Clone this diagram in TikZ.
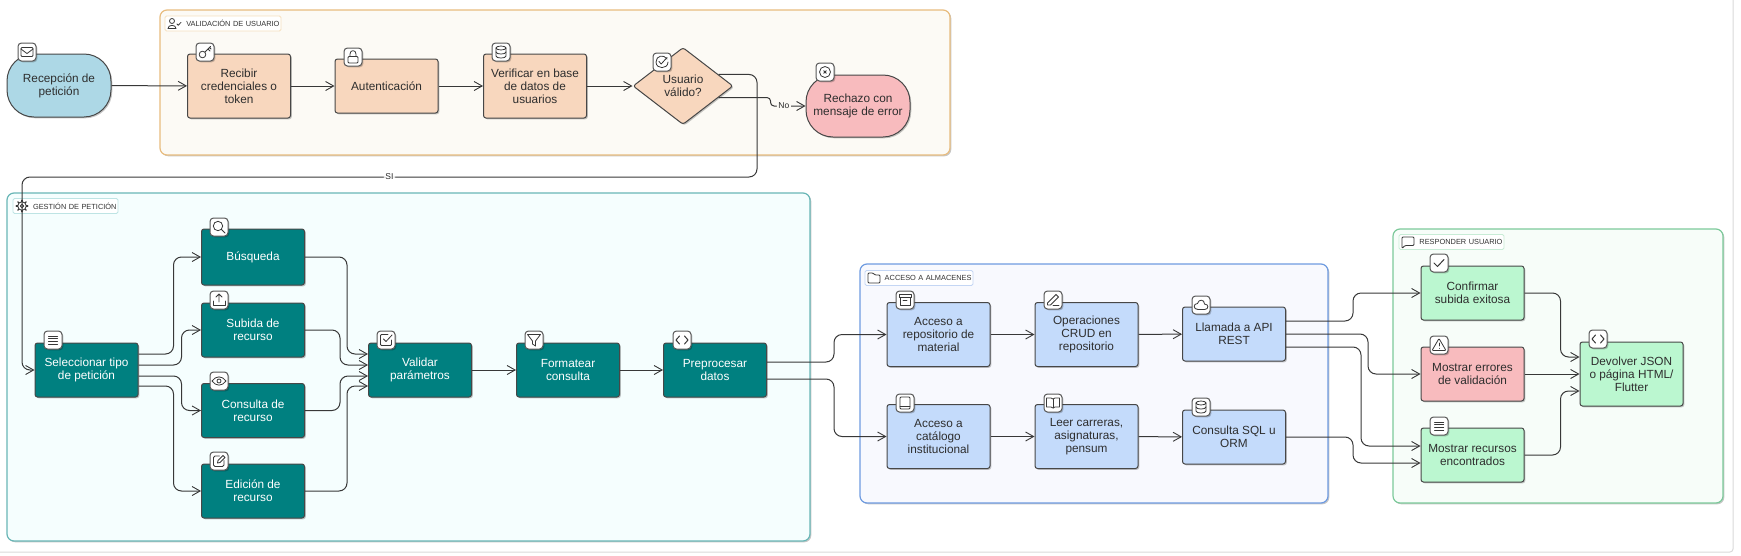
\documentclass[tikz,border=0pt]{standalone}
\usepackage{fontspec}
\setmainfont{Liberation Sans}
\usepackage{tikz}
\usetikzlibrary{arrows.meta}
\usetikzlibrary{shapes.geometric}
\usetikzlibrary{shadows}
\definecolor{azulini}{HTML}{ADD8E6}
\definecolor{durazno}{HTML}{F8D7BE}
\definecolor{rosa}{HTML}{F8BBBE}
\definecolor{verdeazul}{HTML}{008080}
\definecolor{azulcaja}{HTML}{C4DBFB}
\definecolor{verdecaja}{HTML}{BBF7D0}
\tikzset{
    sombra/.style={drop shadow={shadow xshift=1.3pt,shadow yshift=-1.3pt,opacity=.22,fill=black}},
    caja/.style={shape=rectangle, rounded corners=2.5pt, draw=black!72, line width=1pt, sombra,
        minimum width=103pt, minimum height=54pt, inner sep=1pt, align=center, text=black!82,
        font=\fontsize{11.8}{13}\selectfont},
    alta/.style={minimum height=64pt},
    oscura/.style={fill=verdeazul, text=white},
    grupo/.style={shape=rectangle, rounded corners=7pt, line width=1.2pt, sombra},
    etiqueta/.style={shape=rectangle, rounded corners=1.5pt, fill=white, line width=.8pt, inner sep=0pt,
        minimum height=15pt, align=left, text=black!80, font=\fontsize{7.4}{8}\selectfont},
    iconbox/.style={shape=rectangle, rounded corners=3.5pt, fill=white, draw=black!65, line width=1pt,
        minimum width=18pt, minimum height=18pt, inner sep=0pt, sombra},
    flujo/.style={draw=black!78, line width=1pt, rounded corners=8pt, -{Straight Barb[length=8pt,width=9pt,line width=.9pt]}},
    rotulo/.style={font=\fontsize{8.5}{9}\selectfont, text=black!85, inner sep=1.5pt},
    trazo/.style={draw=black!78, line width=.8pt, line cap=round, line join=round},
    pics/sobre/.style={code={\draw[trazo,rounded corners=1pt] (-6,-4.5) rectangle (6,4.5);
        \draw[trazo] (-6,-3) -- (0,1.5) -- (6,-3);}},
    pics/llave/.style={code={\draw[trazo] (-2.5,2.5) circle (3.3);
        \draw[trazo] (0,0) -- (5.5,-5.5) (3,-3) -- (5,-1) (4.5,-4.5) -- (6,-3);}},
    pics/candado/.style={code={\draw[trazo,rounded corners=1pt] (-5,-.5) rectangle (5,6);
        \draw[trazo] (-3,-.5) -- (-3,-3) .. controls (-3,-7.5) and (3,-7.5) .. (3,-3) -- (3,-.5);}},
    pics/base/.style={code={\draw[trazo] (0,-4) ellipse (5 and 2);
        \draw[trazo] (-5,-4) -- (-5,4) .. controls (-5,6.7) and (5,6.7) .. (5,4) -- (5,-4);
        \draw[trazo] (-5,0) .. controls (-5,2.7) and (5,2.7) .. (5,0);}},
    pics/verif/.style={code={\draw[trazo] (5,-3) .. controls (2,-8) and (-6,-6.5) .. (-6,0) .. controls (-6,7.5) and (6,7.5) .. (6,0);
        \draw[trazo] (-3,-.5) -- (-.8,2) -- (5,-4.5);}},
    pics/equis/.style={code={\draw[trazo] (0,0) circle (5.5);
        \draw[trazo] (-1.4,-1.4) -- (1.4,1.4) (-1.4,1.4) -- (1.4,-1.4);}},
    pics/lista/.style={code={\draw[trazo,line width=1pt] (-4.5,-4) -- (4.5,-4) (-4.5,-1.3) -- (4.5,-1.3) (-4.5,1.3) -- (4.5,1.3) (-4.5,4) -- (4.5,4);}},
    pics/lupa/.style={code={\draw[trazo] (-1,-1) circle (4.7);
        \draw[trazo] (2.5,2.5) -- (6,6);}},
    pics/subir/.style={code={\draw[trazo] (0,2) -- (0,-6) (-3,-3) -- (0,-6) -- (3,-3);
        \draw[trazo] (-6,1) -- (-6,5.5) -- (6,5.5) -- (6,1);}},
    pics/ojo/.style={code={\draw[trazo] (-7,0) .. controls (-3,-5.5) and (3,-5.5) .. (7,0) .. controls (3,5.5) and (-3,5.5) .. (-7,0) -- cycle;
        \draw[trazo] (0,0) circle (2);}},
    pics/editar/.style={code={\draw[trazo,rounded corners=1.5pt] (.5,-5) -- (-5.5,-5) -- (-5.5,5.5) -- (5,5.5) -- (5,-.5);
        \draw[trazo] (-1.5,2) -- (-1,-.5) -- (4,-5.5) -- (6,-3.5) -- (1,1.5) -- cycle;}},
    pics/cheque/.style={code={\draw[trazo,rounded corners=1pt] (2,-5.5) -- (-5.5,-5.5) -- (-5.5,5.5) -- (5.5,5.5) -- (5.5,0);
        \draw[trazo] (-2.5,-1) -- (0,1.5) -- (6,-5);}},
    pics/filtro/.style={code={\draw[trazo] (-6.5,-5.5) -- (6.5,-5.5) -- (1.5,1) -- (1.5,6) -- (-1.5,4) -- (-1.5,1) -- cycle;}},
    pics/codigo/.style={code={\draw[trazo,line width=1pt] (-2.5,-4) -- (-6,0) -- (-2.5,4) (2.5,-4) -- (6,0) -- (2.5,4);}},
    pics/archivo/.style={code={\draw[trazo] (-6,-5.5) rectangle (6,-2.5);
        \draw[trazo] (-5,-2.5) -- (-5,5.5) -- (5,5.5) -- (5,-2.5) (-2,.5) -- (2,.5);}},
    pics/lapiz/.style={code={\draw[trazo] (-5.5,3) -- (3,-5.5) -- (5.5,-3) -- (-2.5,5) -- (-5.5,5) -- cycle;
        \draw[trazo] (0,5.5) -- (6,5.5);}},
    pics/nube/.style={code={\draw[trazo] (-3,4.5) .. controls (-8,4.5) and (-8,-1.5) .. (-3.5,-1.5) .. controls (-2.5,-6) and (3.5,-6) .. (3.5,-1) .. controls (8,-1) and (8,4.5) .. (3.5,4.5) -- cycle;}},
    pics/libro/.style={code={\draw[trazo,rounded corners=1pt] (-5,-6) rectangle (5,6);
        \draw[trazo] (-5,3) -- (5,3);}},
    pics/abierto/.style={code={\draw[trazo] (0,-4) -- (0,5);
        \draw[trazo] (0,-4) -- (-2,-5) -- (-6.5,-5) -- (-6.5,4) -- (-2,4) -- (0,5) -- (2,4) -- (6.5,4) -- (6.5,-5) -- (2,-5) -- cycle;}},
    pics/visto/.style={code={\draw[trazo,line width=1pt] (-5,0) -- (-1.5,3.5) -- (5,-3.5);}},
    pics/alerta/.style={code={\draw[trazo,rounded corners=1pt] (0,-6.5) -- (7,5.5) -- (-7,5.5) -- cycle;
        \draw[trazo] (0,-2) -- (0,1) (0,3.3) -- (0,3.4);}},
    pics/usuario/.style={code={\draw[trazo] (-2,-2.5) circle (2.5);
        \draw[trazo] (-6,5) .. controls (-6,.8) and (2,.8) .. (2,5) -- cycle;
        \draw[trazo] (3,.5) -- (4.3,1.8) -- (7,-1.2);}},
    pics/engrane/.style={code={\draw[trazo] (0,0) circle (1.8) (0,0) circle (4.3);
        \foreach \ang in {0,45,...,315} {\draw[trazo,line width=1.3pt] (\ang:4.3) -- (\ang:5.8);}}},
    pics/carpeta/.style={code={\draw[trazo,rounded corners=1pt] (-6,5) -- (-6,-5) -- (-1,-5) -- (1,-3) -- (6,-3) -- (6,5) -- cycle;}},
    pics/dialogo/.style={code={\draw[trazo,rounded corners=1pt] (-6,-5) -- (6,-5) -- (6,3.5) -- (-3,3.5) -- (-6,6.5) -- cycle;}}
}

\begin{document}
\begin{tikzpicture}[x=1pt, y=-1pt]
            \useasboundingbox (0,0) rectangle (1741,555);

            % marco de la captura
            \draw[black!15, line width=1pt, rounded corners=3pt] (0,552) -- (1733,552) -- (1733,0);

            % grupos
            \node[grupo, draw={rgb,255:red,232;green,188;blue,126}, fill={rgb,255:red,252;green,250;blue,245}, minimum width=790pt, minimum height=145pt] (gValida) at (555,82.5) {};
            \node[grupo, draw={rgb,255:red,104;green,182;blue,182}, fill={rgb,255:red,245;green,254;blue,254}, minimum width=803pt, minimum height=348pt] (gGestion) at (408.5,367) {};
            \node[grupo, draw={rgb,255:red,110;green,155;blue,224}, fill={rgb,255:red,248;green,249;blue,254}, minimum width=468pt, minimum height=239pt] (gAcceso) at (1094,383.5) {};
            \node[grupo, draw={rgb,255:red,124;green,201;blue,154}, fill={rgb,255:red,247;green,253;blue,249}, minimum width=330pt, minimum height=274pt] (gResp) at (1558,366) {};

            \node[etiqueta, draw={rgb,255:red,246;green,224;blue,190}, minimum width=116pt, text width=113pt, align=right] (eValida) at (223,23.5) {VALIDACIÓN DE USUARIO};
            \node[etiqueta, draw={rgb,255:red,190;green,228;blue,228}, minimum width=105pt, text width=102pt, align=right] (eGestion) at (65.5,206) {GESTIÓN DE PETICIÓN};
            \node[etiqueta, draw={rgb,255:red,196;green,214;blue,244}, minimum width=108pt, text width=105pt, align=right] (eAcceso) at (919,278) {ACCESO A ALMACENES};
            \node[etiqueta, draw={rgb,255:red,200;green,236;blue,214}, minimum width=105pt, text width=102pt, align=right] (eResp) at (1451.5,242) {RESPONDER USUARIO};
            \pic at (174,23.5) {usuario};
            \pic at (22,206) {engrane};
            \pic at (874,278) {carpeta};
            \pic at (1408,242) {dialogo};

            % validacion
            \node[caja, alta, fill=azulini, rounded corners=27pt, minimum width=104pt, minimum height=63pt] (inicio) at (59,85.5) {Recepción de\\petición};
            \node[caja, alta, fill=durazno] (recibir) at (239,86) {Recibir\\credenciales o\\token};
            \node[caja, fill=durazno] (autentica) at (386.5,86) {Autenticación};
            \node[caja, alta, fill=durazno] (verifica) at (535,86) {Verificar en base\\de datos de\\usuarios};
            \node[shape=diamond, shape aspect=1.3, rounded corners=2.5pt, draw=black!72, line width=1pt, sombra, fill=durazno, minimum width=100pt, minimum height=77pt, inner sep=0pt, align=center, text=black!82, font=\fontsize{11.8}{13}\selectfont] (valido) at (683,86) {Usuario\\válido?};
            \node[caja, fill=rosa, rounded corners=27pt, minimum width=104pt, minimum height=62pt] (rechazo) at (858,106) {Rechazo con\\mensaje de error};

            % gestion
            \node[caja, oscura] (selec) at (86.5,370) {Seleccionar tipo\\de petición};
            \node[caja, oscura, minimum height=56pt] (busq) at (253,257) {Búsqueda};
            \node[caja, oscura] (subida) at (253,330) {Subida de\\recurso};
            \node[caja, oscura] (consulta) at (253,410.5) {Consulta de\\recurso};
            \node[caja, oscura] (edicion) at (253,491) {Edición de\\recurso};
            \node[caja, oscura] (params) at (420,370) {Validar\\parámetros};
            \node[caja, oscura] (formato) at (568,370) {Formatear\\consulta};
            \node[caja, oscura] (prepro) at (715,370) {Preprocesar\\datos};

            % almacenes
            \node[caja, alta, fill=azulcaja] (repo) at (938.5,334.5) {Acceso a\\repositorio de\\material};
            \node[caja, alta, fill=azulcaja] (crud) at (1086.5,334.5) {Operaciones\\CRUD en\\repositorio};
            \node[caja, fill=azulcaja] (api) at (1234,334) {Llamada a API\\REST};
            \node[caja, alta, fill=azulcaja] (catalogo) at (938.5,436.5) {Acceso a\\catálogo\\institucional};
            \node[caja, alta, fill=azulcaja] (leer) at (1086.5,436.5) {Leer carreras,\\asignaturas,\\pensum};
            \node[caja, fill=azulcaja] (sql) at (1234,437) {Consulta SQL u\\ORM};

            % respuesta
            \node[caja, fill=verdecaja] (confirma) at (1472.5,293) {Confirmar\\subida exitosa};
            \node[caja, fill=rosa] (errores) at (1472.5,374) {Mostrar errores\\de validación};
            \node[caja, fill=verdecaja] (recursos) at (1472.5,455) {Mostrar recursos\\encontrados};
            \node[caja, alta, fill=verdecaja] (devolver) at (1631.5,374) {Devolver JSON\\o página HTML/\\Flutter};

            % conectores
            \draw[flujo] (inicio) -- (recibir);
            \draw[flujo] (recibir) -- (autentica);
            \draw[flujo] (autentica) -- (verifica);
            \draw[flujo] (verifica) -- (valido);
            \coordinate (vuelta) at (757,177);
            \coordinate (bajada) at (22,177);
            \draw[flujo] (valido.18) -| (vuelta) -- (bajada) node[midway, rotulo, fill=white] {SI} |- (selec.west);
            \draw[flujo, rounded corners=3.5pt] (valido.-18) -- ++(52,0) |- (rechazo.west) node[pos=.69, rotulo, fill={rgb,255:red,252;green,250;blue,245}] {No};

            \draw[flujo] ([yshift=16pt]selec.east) -- ++(35,0) |- (busq.west);
            \draw[flujo] ([yshift=5pt]selec.east) -- ++(43,0) |- (subida.west);
            \draw[flujo] ([yshift=-6pt]selec.east) -- ++(43,0) |- (consulta.west);
            \draw[flujo] ([yshift=-16pt]selec.east) -- ++(35,0) |- (edicion.west);
            \draw[flujo] (busq.east) -- ++(42,0) |- ([yshift=16pt]params.west);
            \draw[flujo] (subida.east) -- ++(35,0) |- ([yshift=5pt]params.west);
            \draw[flujo] (consulta.east) -- ++(35,0) |- ([yshift=-6pt]params.west);
            \draw[flujo] (edicion.east) -- ++(42,0) |- ([yshift=-16pt]params.west);
            \draw[flujo] (params) -- (formato);
            \draw[flujo] (formato) -- (prepro);

            \draw[flujo] ([yshift=8pt]prepro.east) -- ++(67,0) |- (repo.west);
            \draw[flujo] ([yshift=-9pt]prepro.east) -- ++(67,0) |- (catalogo.west);
            \draw[flujo] (repo) -- (crud);
            \draw[flujo] (crud) -- (api);
            \draw[flujo] (catalogo) -- (leer);
            \draw[flujo] (leer) -- (sql);

            \draw[flujo] ([yshift=13pt]api.east) -- ++(67,0) |- (confirma.west);
            \draw[flujo] (api.east) -- ++(82,0) |- (errores.west);
            \draw[flujo] ([yshift=-13pt]api.east) -- ++(75,0) |- ([yshift=9pt]recursos.west);
            \draw[flujo] (sql.east) -- ++(67,0) |- ([yshift=-8pt]recursos.west);
            \draw[flujo] (confirma.east) -- ++(36,0) |- ([yshift=17pt]devolver.west);
            \draw[flujo] (errores) -- (devolver);
            \draw[flujo] (recursos.east) -- ++(36,0) |- ([yshift=-17pt]devolver.west);

            % iconos
            \node[iconbox] (iInicio) at (27,52) {};
            \pic at (iInicio) {sobre};
            \node[iconbox] (iRecibir) at (205,52) {};
            \pic at (iRecibir) {llave};
            \node[iconbox] (iAutentica) at (353,57) {};
            \pic at (iAutentica) {candado};
            \node[iconbox] (iVerifica) at (501,52) {};
            \pic at (iVerifica) {base};
            \node[iconbox] (iValido) at (662,62) {};
            \pic at (iValido) {verif};
            \node[iconbox] (iRechazo) at (825,72) {};
            \pic at (iRechazo) {equis};
            \node[iconbox] (iSelec) at (53,340) {};
            \pic at (iSelec) {lista};
            \node[iconbox] (iBusq) at (219,227) {};
            \pic at (iBusq) {lupa};
            \node[iconbox] (iSubida) at (219,300) {};
            \pic at (iSubida) {subir};
            \node[iconbox] (iConsulta) at (219,381) {};
            \pic at (iConsulta) {ojo};
            \node[iconbox] (iEdicion) at (219,461) {};
            \pic at (iEdicion) {editar};
            \node[iconbox] (iParams) at (386,340) {};
            \pic at (iParams) {cheque};
            \node[iconbox] (iFormato) at (534,340) {};
            \pic at (iFormato) {filtro};
            \node[iconbox] (iPrepro) at (682,340) {};
            \pic at (iPrepro) {codigo};
            \node[iconbox] (iRepo) at (905,300) {};
            \pic at (iRepo) {archivo};
            \node[iconbox] (iCrud) at (1053,300) {};
            \pic at (iCrud) {lapiz};
            \node[iconbox] (iApi) at (1201,305) {};
            \pic at (iApi) {nube};
            \node[iconbox] (iCatalogo) at (905,403) {};
            \pic at (iCatalogo) {libro};
            \node[iconbox] (iLeer) at (1053,403) {};
            \pic at (iLeer) {abierto};
            \node[iconbox] (iSql) at (1201,407) {};
            \pic at (iSql) {base};
            \node[iconbox] (iConfirma) at (1439,263) {};
            \pic at (iConfirma) {visto};
            \node[iconbox] (iErrores) at (1439,345) {};
            \pic at (iErrores) {alerta};
            \node[iconbox] (iRecursos) at (1439,426) {};
            \pic at (iRecursos) {lista};
            \node[iconbox] (iDevolver) at (1598,339) {};
            \pic at (iDevolver) {codigo};

        \end{tikzpicture}
\end{document}
